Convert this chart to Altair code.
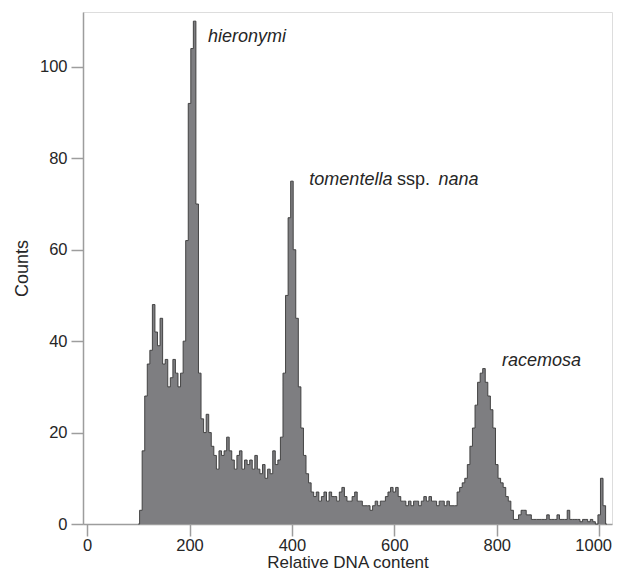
import altair as alt
import pandas as pd
import numpy as np

# Histogram: bin centres start at 100, 5 units apart
bin_start = 100
bin_width = 5
counts = [
    0, 3, 16, 28, 35, 38, 48, 42, 39, 45, 35, 36, 30, 32, 36, 33, 30, 33, 40, 62,        # 100-195
    92, 104, 110, 70, 33, 23, 20, 24, 20, 17, 15, 12, 16, 15, 16, 19, 16, 14, 12, 15,    # 200-295
    16, 12, 14, 13, 14, 12, 15, 12, 11, 13, 10, 12, 11, 16, 13, 14, 19, 33, 50, 67,      # 300-395
    75, 60, 45, 30, 21, 15, 11, 9, 7, 6, 7, 5, 6, 7, 5, 7, 6, 6, 5, 7,                   # 400-495
    8, 6, 5, 5, 6, 7, 5, 5, 4, 4, 4, 3, 4, 5, 4, 5, 5, 6, 7, 8,                          # 500-595
    7, 8, 6, 5, 5, 4, 5, 4, 5, 5, 4, 5, 6, 5, 6, 5, 5, 4, 5, 5,                          # 600-695
    4, 5, 4, 4, 4, 7, 8, 9, 10, 13, 17, 21, 26, 31, 33, 34, 31, 28, 25, 21,              # 700-795
    13, 10, 9, 8, 6, 5, 3, 1, 1, 2, 3, 3, 2, 2, 1, 1, 1, 1, 1, 1,                        # 800-895
    2, 1, 1, 1, 2, 1, 1, 1, 3, 1, 1, 1, 1, 0.5, 1, 1, 0.5, 1, 0.5, 0,                    # 900-995
    2, 10, 4, 0,                                                                         # 1000-1015
]

x_ticks = [0, 200, 400, 600, 800, 1000]
y_ticks = [0, 20, 40, 60, 80, 100]

italic_text = ["hieronymi", "tomentella", "nana", "racemosa"]
italic_x = [236, 434, 686, 810]
italic_y = [105.5, 74.2, 74.2, 34.6]

normal_text = ["ssp."]
normal_x = [605]
normal_y = [74.2]

FONT = "Liberation Sans"
AXIS_GRAY = "#9d9d9d"
TEXT = "#262626"

df = pd.DataFrame({"dna": bin_start + bin_width * np.arange(len(counts)), "count": counts})
df_it = pd.DataFrame({"dna": italic_x, "count": italic_y, "label": italic_text})
df_no = pd.DataFrame({"dna": normal_x, "count": normal_y, "label": normal_text})

xscale = alt.Scale(domain=[-8, 1025], nice=False, zero=False)
yscale = alt.Scale(domain=[0, 112], nice=False)

x_axis = alt.Axis(
    values=x_ticks, format="d", grid=False, title="Relative DNA content",
    tickSize=12, tickWidth=1.5, tickColor=AXIS_GRAY, domainColor=AXIS_GRAY, domainWidth=1.5,
    labelFont=FONT, labelFontSize=16.5, labelColor=TEXT, labelPadding=1,
    labelOffset={"condition": {"test": "datum.value === 1000", "value": -6}, "value": 0},
    titleFont=FONT, titleFontSize=17, titleFontWeight="normal", titleColor=TEXT,
    titleBaseline="alphabetic", titleY=43,
)
y_axis = alt.Axis(
    values=y_ticks, format="d", grid=False, title="Counts",
    tickSize=12, tickWidth=1.5, tickColor=AXIS_GRAY, domainColor=AXIS_GRAY, domainWidth=1.5,
    labelFont=FONT, labelFontSize=16.5, labelColor=TEXT, labelPadding=4,
    titleFont=FONT, titleFontSize=18, titleFontWeight="normal", titleColor=TEXT,
    titleBaseline="alphabetic", titleX=-56, titleY=256, titleAngle=-90,
)

area = alt.Chart(df).mark_area(
    interpolate="step", color="#7e7e81", opacity=1,
    line={"color": "#383838", "strokeWidth": 0.9},
).encode(
    x=alt.X("dna:Q", scale=xscale, axis=x_axis),
    y=alt.Y("count:Q", scale=yscale, axis=y_axis),
)

it = alt.Chart(df_it).mark_text(
    align="left", baseline="alphabetic", font=FONT, fontSize=18, fontStyle="italic", color=TEXT,
).encode(x=alt.X("dna:Q", scale=xscale), y=alt.Y("count:Q", scale=yscale), text="label:N")

no = alt.Chart(df_no).mark_text(
    align="left", baseline="alphabetic", font=FONT, fontSize=18, color=TEXT,
).encode(x=alt.X("dna:Q", scale=xscale), y=alt.Y("count:Q", scale=yscale), text="label:N")

chart = alt.layer(area, it, no).properties(
    width=529, height=512,
    autosize=alt.AutoSizeParams(type="none"),
    padding={"left": 75, "top": 4, "right": 1, "bottom": 46},
).configure_view(stroke=None).configure(background="white")

chart.save("out.html", embed_options={"renderer": "svg", "actions": False})
